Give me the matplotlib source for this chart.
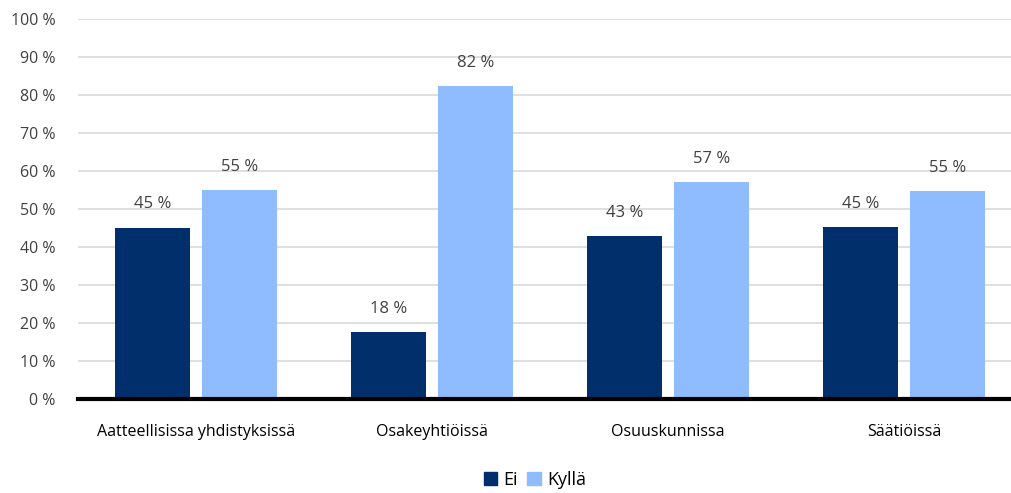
import matplotlib
matplotlib.use('Agg')
from matplotlib import pyplot as plt
from matplotlib.patches import Patch
import numpy as np

# Data
categories = ['Aatteellisissa yhdistyksissä', 'Osakeyhtiöissä', 'Osuuskunnissa', 'Säätiöissä']
ei = [45.1, 17.6, 42.9, 45.3]
kylla = [54.9, 82.4, 57.1, 54.7]
ei_labels = ['45 %', '18 %', '43 %', '45 %']
kylla_labels = ['55 %', '82 %', '57 %', '55 %']
yticks = list(range(0, 101, 10))

plt.rcParams['font.family'] = ['Open Sans', 'DejaVu Sans']

W, H = 1011, 493
fig = plt.figure(figsize=(W / 100, H / 100), dpi=100)
ax = fig.add_axes([78 / W, 1 - 399 / H, 1 - 78 / W, (399 - 19) / H])

x = np.arange(len(categories))
dark, light = '#002f6c', '#8fbcff'
ax.bar(x - 0.185, ei, width=0.32, color=dark, zorder=3)
ax.bar(x + 0.185, kylla, width=0.32, color=light, zorder=3)

for i in range(len(categories)):
    ax.annotate(ei_labels[i], (x[i] - 0.185, ei[i]), xytext=(0, 11), textcoords='offset points',
                ha='center', va='bottom', fontsize=12, color='#404040')
    ax.annotate(kylla_labels[i], (x[i] + 0.185, kylla[i]), xytext=(0, 11), textcoords='offset points',
                ha='center', va='bottom', fontsize=12, color='#404040')

ax.set_xlim(-0.5, 3.5 - 11 / 236)
ax.set_ylim(0, 100)
ax.set_yticks(yticks)
ax.set_yticklabels([f'{t} %' for t in yticks])
ax.set_xticks(x)
ax.set_xticklabels(categories)
ax.tick_params(axis='y', length=0, labelsize=11.5, labelcolor='#404040', pad=16)
ax.tick_params(axis='x', length=0, labelsize=11.5, labelcolor='black', pad=18)
ax.grid(axis='y', color='#d9d9d9', linewidth=1.2, zorder=0)
for s in ['top', 'right', 'left']:
    ax.spines[s].set_visible(False)
ax.spines['bottom'].set_linewidth(3)
ax.spines['bottom'].set_zorder(4)

handles = [Patch(color=dark, label='Ei'), Patch(color=light, label='Kyllä')]
fig.legend(handles=handles, loc='center', bbox_to_anchor=(535 / W, 1 - 480 / H), ncol=2,
           frameon=False, fontsize=13, handlelength=0.75, handleheight=0.75,
           handletextpad=0.35, columnspacing=0.5)

fig.savefig('out.png', dpi=100)
